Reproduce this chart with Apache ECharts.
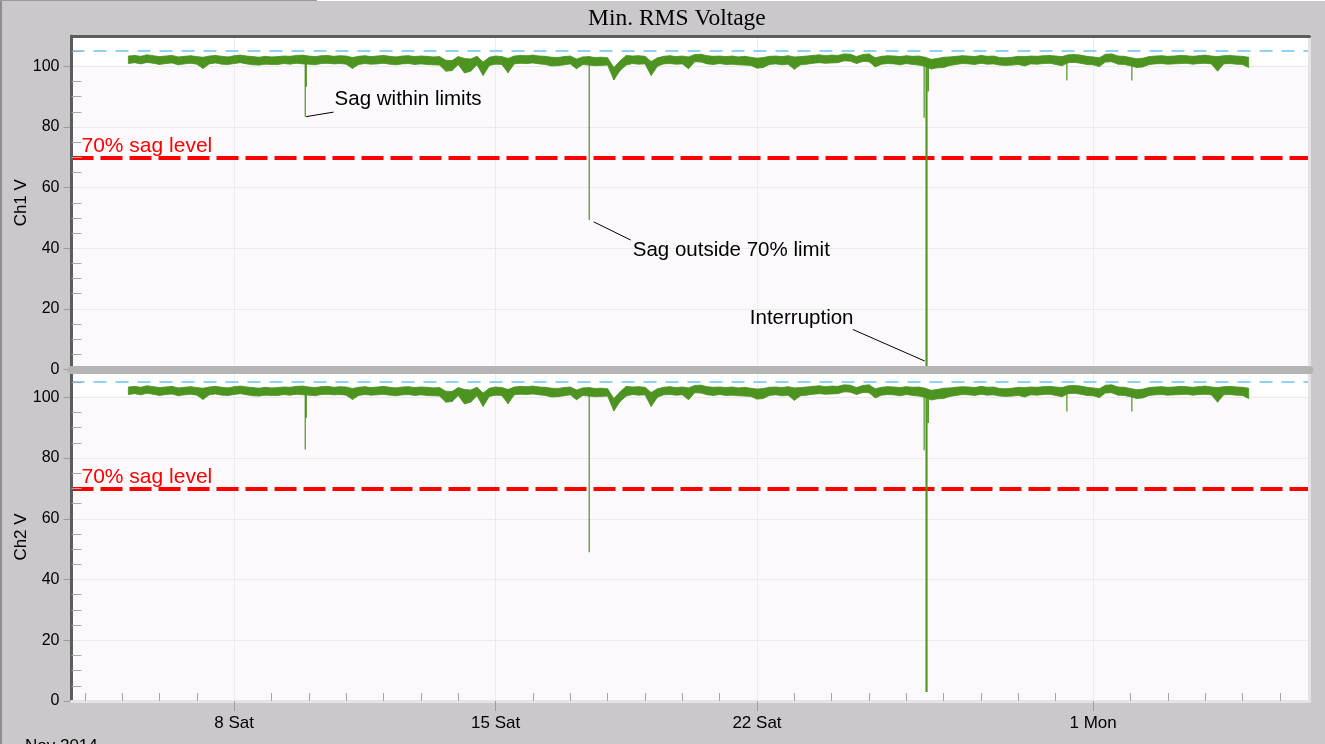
<!DOCTYPE html>
<html><head><meta charset="utf-8">
<script src="https://cdn.jsdelivr.net/npm/echarts@6/dist/echarts.min.js"></script>
<style>html,body{margin:0;padding:0;background:#cac8ca;overflow:hidden}#c{width:1325px;height:744px}</style>
</head><body><div id="c"></div>
<script>
// ---------- data ----------
const chartTitle = 'Min. RMS Voltage';
const axisStart = '2014-11-03T15:27';
const axisEnd = '2014-12-06T19:05';
const bandStart = '2014-11-05T04:00';   // first 4-hour bucket
const bandStepHours = 4;
// per-bucket minimum / maximum of the noisy RMS band (V)
const bandHigh = [
 103.4,103.6,103.3,103.8,103.5,103.2,103.4,103.6,103.1,103.3,103.5,103.2,
 103.0,103.4,103.6,103.3,103.1,103.5,103.7,103.4,103.2,103.0,103.3,103.1,
 103.2,103.4,103.3,103.6,103.7,103.4,103.2,103.5,103.6,103.3,103.5,103.4,
 102.9,103.3,103.5,103.2,103.4,103.6,103.3,103.1,103.4,103.5,103.2,103.4,
 103.3,103.1,103.2,102.0,101.9,103.2,102.6,102.4,103.3,101.4,103.0,103.4,
 103.2,102.6,103.4,103.6,103.5,103.7,103.4,103.3,103.0,102.9,103.2,103.4,
 102.4,103.1,103.2,102.9,103.0,102.8,99.6,101.8,103.6,103.4,103.5,103.3,
 101.6,102.8,103.3,103.5,103.2,103.4,103.1,103.9,104.0,103.5,103.3,103.4,
 103.2,103.4,103.1,103.3,103.0,102.7,102.9,103.3,103.4,103.2,103.5,103.1,
 103.2,103.4,103.6,103.8,103.5,103.7,103.6,104.1,104.0,103.2,103.9,104.1,
 102.8,103.3,103.5,103.4,103.2,103.5,103.3,103.4,103.0,102.3,102.6,103.0,
 103.1,103.3,103.5,103.4,103.2,103.6,103.3,103.4,102.9,102.8,103.0,103.3,
 103.2,103.4,103.3,103.5,103.6,103.4,103.2,103.8,103.9,103.7,103.3,103.1,
 102.8,104.0,104.1,103.4,103.3,102.9,102.5,102.7,103.2,103.4,103.5,103.3,
 103.4,103.6,103.5,103.3,103.5,103.7,103.4,103.2,103.5,103.6,103.4,103.3,103.0
];
const bandLow = [
 100.9,101.2,100.8,101.3,101.0,100.6,100.9,101.1,100.5,100.8,101.0,100.7,
 99.3,100.8,101.1,100.7,100.6,100.9,101.2,100.8,100.5,100.4,100.7,100.6,
 100.6,100.9,100.7,101.0,100.8,100.7,100.5,100.9,101.0,100.8,100.9,100.7,
 99.3,100.6,100.9,100.7,100.8,101.0,100.7,100.5,100.8,100.9,100.6,100.8,
 100.6,100.5,100.4,98.4,98.6,100.6,97.8,98.4,100.5,97.0,100.3,100.7,
 100.6,97.9,100.8,101.0,100.9,101.1,100.8,100.6,100.1,100.2,100.5,100.8,
 99.2,100.6,100.4,100.2,100.3,100.4,95.5,98.6,100.4,100.9,100.7,100.8,
 97.0,100.0,100.8,100.9,100.7,100.8,99.2,101.5,101.4,100.8,100.6,100.9,
 100.6,100.7,100.5,100.4,100.3,99.4,99.6,100.6,100.8,100.5,100.7,99.0,
 100.5,100.7,101.0,101.2,101.0,101.1,101.2,101.8,101.7,100.9,101.6,101.5,
 99.8,100.7,100.9,100.8,100.5,100.9,100.6,100.4,100.0,99.1,99.5,99.6,
 100.3,100.6,100.9,100.8,100.6,101.0,100.7,100.8,100.4,100.3,100.4,100.6,
 100.1,100.8,100.7,100.9,101.0,100.6,100.2,101.2,101.3,101.0,100.6,100.5,
 99.9,101.4,101.5,100.7,100.6,100.2,99.6,99.8,100.6,100.8,100.9,100.7,
 100.8,100.9,101.0,100.7,100.9,101.0,100.8,98.4,100.8,100.9,100.7,100.6,99.6
];
// short events (sags, interruption, single hairs): time and minimum reached
const eventBase = 102;
const eventTimes = ['2014-11-09T21:40','2014-11-09T22:20','2014-11-17T12:10','2014-11-26T11:26','2014-11-26T12:40','2014-11-26T13:15','2014-11-26T14:07','2014-11-30T07:09','2014-12-02T00:56'];
const ch1EventMins = [83.4, 93.3, 49.3, 83.0, 0, 0, 91.7, 95.3, 95.3];
const ch2EventMins = [82.8, 93.3, 49.0, 82.6, 3.0, 3.0, 91.5, 95.3, 95.3];

const sagLevel = 70;
const sagLabel = '70% sag level';
const upperLimit = 105;

// annotations (Ch1 panel)
const annoTexts = ['Sag within limits', 'Sag outside 70% limit', 'Interruption'];
const annoTextTimes = ['2014-11-10T16:33', '2014-11-18T16:08', '2014-11-21T19:22'];
const annoTextValues = [89.0, 39.4, 17.0];
const annoDotTimes = ['2014-11-09T22:13', '2014-11-17T15:04', '2014-11-26T11:46'];
const annoDotValues = [83.4, 48.7, 2.8];
const annoEndTimes = ['2014-11-10T15:54', '2014-11-18T14:51', '2014-11-24T13:35'];
const annoEndValues = [84.9, 42.7, 13.2];

const weekTickDates = ['2014-11-08T00:00','2014-11-15T00:00','2014-11-22T00:00','2014-12-01T00:00'];
const weekTickLabels = ['8 Sat','15 Sat','22 Sat','1 Mon'];
const dayTickDates = ['2014-11-04T00:00','2014-11-05T00:00','2014-11-06T00:00','2014-11-07T00:00',
 '2014-11-09T00:00','2014-11-10T00:00','2014-11-11T00:00','2014-11-12T00:00','2014-11-13T00:00','2014-11-14T00:00',
 '2014-11-16T00:00','2014-11-17T00:00','2014-11-18T00:00','2014-11-19T00:00','2014-11-20T00:00','2014-11-21T00:00',
 '2014-11-23T00:00','2014-11-24T00:00','2014-11-25T00:00','2014-11-26T00:00','2014-11-27T00:00','2014-11-28T00:00',
 '2014-11-29T00:00','2014-11-30T00:00','2014-12-02T00:00','2014-12-03T00:00','2014-12-04T00:00','2014-12-05T00:00','2014-12-06T00:00'];
const monthLabel = 'Nov 2014';
const yTickValues = [0,20,40,60,80,100];
const yMinorTickValues = [5,10,15,25,30,35,45,50,55,65,70,75,85,90,95,105];
const panelNames = ['Ch1 V', 'Ch2 V'];
const panelMax = [110, 108];

// ---------- build ----------
const P = s => new Date(s).getTime();
const green = '#4c9320';
const FONT = 'Liberation Sans';
const t0 = P(bandStart);
const stepMs = bandStepHours * 3600 * 1000;
const bandTimes = bandLow.map((_, i) => t0 + i * stepMs);
const bandData = bandLow.map((v, i) => [bandTimes[i], v, bandHigh[i]]);
function renderBand(params, api) {
  const i = params.dataIndex;
  if (i >= bandLow.length - 1) return null;
  const pts = [
    api.coord([bandTimes[i], bandHigh[i]]),
    api.coord([bandTimes[i + 1], bandHigh[i + 1]]),
    api.coord([bandTimes[i + 1], bandLow[i + 1]]),
    api.coord([bandTimes[i], bandLow[i]])
  ];
  return { type: 'polygon', shape: { points: pts }, style: { fill: green, stroke: green, lineWidth: 0.8 } };
}
function eventData(mins) {
  const d = [];
  eventTimes.forEach((t, i) => { const ts = P(t); d.push([ts, eventBase], [ts, mins[i]], [ts, '-']); });
  return d;
}
const xMin = P(axisStart), xMax = P(axisEnd);
const weekTs = weekTickDates.map(P);
const dayTs = dayTickDates.map(P);

const grids = [
  { left: 71.5, right: 15.5, top: 36, height: 333.5, show: true, backgroundColor: '#fcf9fc', borderWidth: 0, containLabel: false, outerBoundsMode: 'none' },
  { left: 71.5, right: 15.5, top: 373, height: 328, show: true, backgroundColor: '#fcf9fc', borderWidth: 0, containLabel: false, outerBoundsMode: 'none' }
];

const xAxes = [
  { gridIndex: 0, type: 'value', min: xMin, max: xMax, position: 'bottom', z: 5,
    axisLine: { onZero: false, lineStyle: { color: '#b4b4b4', width: 8 } },
    axisTick: { show: false }, axisLabel: { show: false }, splitLine: { show: false } },
  { gridIndex: 0, type: 'value', min: xMin, max: xMax, position: 'top', z: 5,
    axisLine: { onZero: false, lineStyle: { color: '#5c5c5c', width: 3 } },
    axisTick: { show: false }, axisLabel: { show: false }, splitLine: { show: false } },
  { gridIndex: 1, type: 'value', min: xMin, max: xMax, position: 'bottom', z: 5,
    axisLine: { onZero: false, lineStyle: { color: '#e6e2e6', width: 3 } },
    axisTick: { show: true, length: 10, customValues: weekTs, lineStyle: { color: '#9c9c9c', width: 1 } },
    axisLabel: { show: true, customValues: weekTs, margin: 14, color: '#000', fontSize: 17, fontFamily: FONT,
      formatter: v => { const k = weekTs.indexOf(v); return k >= 0 ? weekTickLabels[k] : ''; } },
    splitLine: { show: false } },
  { gridIndex: 1, type: 'value', min: xMin, max: xMax, position: 'bottom', z: 5,
    axisLine: { show: false, onZero: false },
    axisTick: { show: true, inside: true, length: 8, customValues: dayTs, lineStyle: { color: '#a4a4a4', width: 1 } },
    axisLabel: { show: false }, splitLine: { show: false } }
];

const yAxes = [];
[0, 1].forEach(g => {
  // labels, outside ticks, horizontal grid lines
  yAxes.push({ gridIndex: g, type: 'value', min: 0, max: panelMax[g], interval: 20, position: 'left',
    name: panelNames[g], nameLocation: 'middle', nameGap: 42, nameRotate: 90, nameMoveOverlap: false,
    nameTextStyle: { color: '#000', fontSize: 17, fontFamily: FONT },
    axisLine: { show: false, onZero: false },
    axisTick: { show: true, length: 8, customValues: yTickValues, lineStyle: { color: '#9c9c9c' } },
    axisLabel: { customValues: yTickValues, margin: 12, color: '#000', fontSize: 16, fontFamily: FONT },
    splitLine: { show: true, lineStyle: { color: '#ebebeb', width: 1 } } });
  // frame line + inside minor ticks
  yAxes.push({ gridIndex: g, type: 'value', min: 0, max: panelMax[g], interval: 20, position: 'left', z: 5,
    axisLine: { show: true, onZero: false, lineStyle: { color: '#5c5c5c', width: 3 } },
    axisTick: { show: true, inside: true, length: 10, customValues: yMinorTickValues, lineStyle: { color: '#a8a8a8' } },
    axisLabel: { show: false }, splitLine: { show: false } });
  yAxes.push({ gridIndex: g, type: 'value', min: 0, max: panelMax[g], position: 'right', z: 5,
    axisLine: { show: true, onZero: false, lineStyle: { color: '#e6e2e6', width: 3 } },
    axisTick: { show: false }, axisLabel: { show: false }, splitLine: { show: false } });
});

const series = [];
[0, 1].forEach(g => {
  const xi = g === 0 ? 0 : 2;
  const yi = g * 3;
  const refLines = weekTs.map(ts => ({ xAxis: ts, lineStyle: { color: '#ebebeb', width: 1, type: 'solid' }, label: { show: false } }));
  refLines.push({ yAxis: upperLimit, lineStyle: { color: '#8fd2ef', width: 2, type: [13, 9] }, label: { show: false } });
  refLines.push({ yAxis: sagLevel, lineStyle: { color: '#ff0000', width: 4, type: [22, 7] },
    label: { show: true, position: 'insideStartTop', formatter: sagLabel, color: '#ff0000', fontSize: 21, fontFamily: FONT, distance: [10, 1] } });
  series.push({
    type: 'custom', xAxisIndex: xi, yAxisIndex: yi, data: bandData, renderItem: renderBand,
    encode: { x: 0, y: [1, 2] }, z: 3, silent: true, clip: true,
    markArea: { silent: true, z: 1, itemStyle: { color: '#ffffff' }, data: [[{ yAxis: 100.4 }, { yAxis: panelMax[g] }]] },
    markLine: { silent: true, z: 1.5, symbol: 'none', animation: false, data: refLines }
  });
  const ev = {
    type: 'line', xAxisIndex: xi, yAxisIndex: yi, data: eventData(g === 0 ? ch1EventMins : ch2EventMins),
    showSymbol: false, connectNulls: false, lineStyle: { color: green, width: 1.2 }, z: 4, silent: true
  };
  if (g === 0) {
    ev.markLine = { silent: true, symbol: ['circle', 'none'], symbolSize: [5, 0], animation: false,
      lineStyle: { color: '#000', width: 1, type: 'solid' }, label: { show: false },
      itemStyle: { color: '#000' },
      data: annoTexts.map((_, i) => [{ coord: [P(annoDotTimes[i]), annoDotValues[i]] }, { coord: [P(annoEndTimes[i]), annoEndValues[i]] }]) };
    ev.markPoint = { silent: true, symbol: 'circle', symbolSize: 0, animation: false,
      label: { show: true, position: 'right', distance: 0, formatter: '{b}', color: '#000', fontSize: 20.5, fontFamily: FONT },
      data: annoTexts.map((t, i) => ({ name: t, coord: [P(annoTextTimes[i]), annoTextValues[i]] })) };
  }
  series.push(ev);
});

const chart = echarts.init(document.getElementById('c'));
chart.setOption({
  animation: false,
  backgroundColor: '#cac8ca',
  textStyle: { fontFamily: FONT },
  title: { text: chartTitle, left: 583, top: 2, textStyle: { fontFamily: 'Liberation Serif', fontSize: 23.5, fontWeight: 'normal', color: '#000' } },
  grid: grids,
  xAxis: xAxes,
  yAxis: yAxes,
  series: series,
  graphic: [
    { type: 'rect', shape: { x: 0, y: 0, width: 2, height: 744 }, style: { fill: '#8e8e8e' }, silent: true },
    { type: 'rect', shape: { x: 0, y: 0, width: 317, height: 1 }, style: { fill: '#9a9a9a' }, silent: true },
    { type: 'rect', shape: { x: 317, y: 0, width: 1008, height: 1 }, style: { fill: '#ffffff' }, silent: true },
    { type: 'text', left: 25, top: 738, style: { text: monthLabel, fill: '#000', font: '17px "Liberation Sans"' }, silent: true }
  ]
});
</script></body></html>
